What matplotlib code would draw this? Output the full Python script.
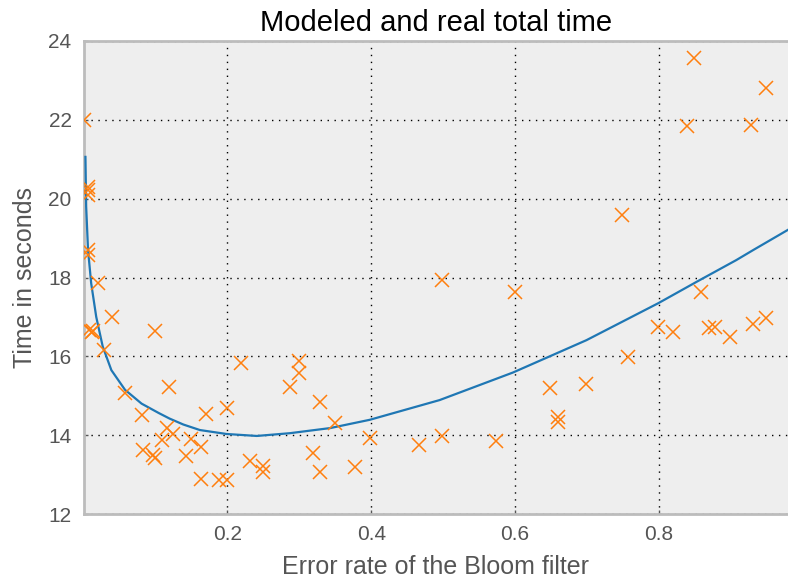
import matplotlib
matplotlib.use("Agg")
import matplotlib.pyplot as plt

plt.rcParams['font.family'] = ['Liberation Sans', 'DejaVu Sans']

# Measured points (error rate, total time)
err_rate = [0.001, 0.006, 0.006, 0.006, 0.007, 0.006, 0.020, 0.008, 0.014, 0.012,
            0.040, 0.029, 0.100, 0.058, 0.119, 0.082, 0.083, 0.097, 0.100, 0.116,
            0.109, 0.125, 0.143, 0.150, 0.164, 0.170, 0.164, 0.189, 0.199, 0.199,
            0.219, 0.232, 0.249, 0.249, 0.287, 0.300, 0.300, 0.329, 0.319, 0.329,
            0.350, 0.378, 0.399, 0.466, 0.499, 0.499, 0.573, 0.600, 0.648, 0.659,
            0.659, 0.698, 0.757, 0.749, 0.799, 0.819, 0.858, 0.869, 0.878, 0.898,
            0.931, 0.948, 0.849, 0.838, 0.928, 0.948]
real_time = [22.00, 20.30, 20.22, 20.09, 18.70, 18.57, 17.85, 16.67, 16.65, 16.62,
             17.00, 16.16, 16.64, 15.08, 15.21, 14.51, 13.62, 13.50, 13.41, 14.18,
             13.88, 14.03, 13.46, 13.90, 13.71, 14.54, 12.89, 12.86, 12.86, 14.70,
             15.82, 13.35, 13.23, 13.07, 15.21, 15.88, 15.57, 14.85, 13.56, 13.06,
             14.30, 13.18, 13.94, 13.75, 13.99, 17.94, 13.84, 17.62, 15.19, 14.45,
             14.33, 15.29, 15.99, 19.59, 16.75, 16.63, 17.62, 16.73, 16.75, 16.48,
             16.82, 16.97, 23.58, 21.85, 21.87, 22.80]

# Modeled curve
model_err = [0.003, 0.004, 0.0066, 0.011, 0.018, 0.027, 0.039, 0.058, 0.081, 0.105,
             0.120, 0.139, 0.162, 0.199, 0.241, 0.287, 0.343, 0.398, 0.495, 0.597,
             0.699, 0.799, 0.852, 0.907, 0.931, 0.979]
model_time = [21.06, 19.80, 18.70, 17.85, 17.00, 16.25, 15.65, 15.15, 14.80, 14.56,
              14.42, 14.27, 14.13, 14.03, 13.98, 14.05, 14.18, 14.39, 14.89, 15.59,
              16.41, 17.35, 17.89, 18.44, 18.70, 19.21]

x_ticks = [0.2, 0.4, 0.6, 0.8]
y_ticks = [12, 14, 16, 18, 20, 22, 24]

fig = plt.figure(figsize=(7.88, 5.83), dpi=100)
ax = fig.add_axes([84/788, 1 - 514/583, 1 - 84/788, (514 - 41)/583])
ax.set_facecolor('#eeeeee')

ax.plot(model_err, model_time, color='#1f77b4', lw=1.6, zorder=3,
        solid_joinstyle='round')
ax.plot(err_rate, real_time, ls='none', marker='x', color='#ff7f0e',
        markersize=9.5, mew=1.1, zorder=4, clip_on=True)

ax.set_xlim(0.001, 0.979)
ax.set_ylim(12, 24)
ax.set_xticks(x_ticks)
ax.set_xticklabels([str(t) for t in x_ticks])
ax.set_yticks(y_ticks)
ax.grid(True, color='black', linestyle=(0, (1, 4)), linewidth=1.0)
ax.set_axisbelow(True)

for side in ['left', 'top', 'bottom']:
    ax.spines[side].set_color('#bcbcbc')
    ax.spines[side].set_linewidth(2)
ax.spines['right'].set_visible(False)

ax.tick_params(axis='both', labelsize=15, colors='#555555', direction='in',
               length=3, width=1, pad=9)
ax.tick_params(axis='x', pad=8)

ax.set_title('Modeled and real total time', fontsize=21, color='black', pad=7)
ax.set_xlabel('Error rate of the Bloom filter', fontsize=18, color='#555555', labelpad=8)
ax.set_ylabel('Time in seconds', fontsize=18, color='#555555', labelpad=8)

fig.savefig('out.png', dpi=100)
